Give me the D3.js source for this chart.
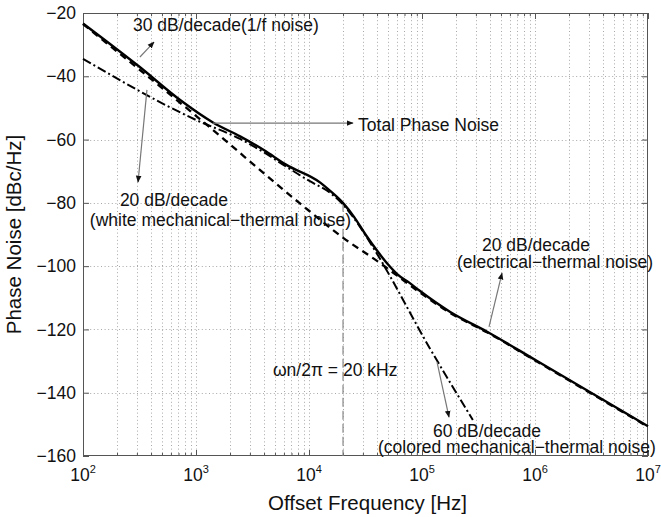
<!DOCTYPE html>
<html><head><meta charset="utf-8">
<script src="https://cdn.jsdelivr.net/npm/d3@7"></script>
<style>
html,body{margin:0;padding:0;background:#fff;}
svg text{font-family:"Liberation Sans",Arial,Helvetica,sans-serif;fill:#111;}
</style></head>
<body><svg id="c" width="661" height="517"></svg>
<script>
// ---- data ----
const xDecades = [1e2, 1e3, 1e4, 1e5, 1e6, 1e7];
const xExponents = ["2", "3", "4", "5", "6", "7"];
const yTicks = [-160, -140, -120, -100, -80, -60, -40, -20];

// Total phase noise (solid)
const totalFreq = [100, 316, 724, 1413, 2455, 3981, 6310, 12589, 15488, 19953, 25119, 31623, 39811, 50119, 60256, 77625, 95499, 177828, 380189, 1e6, 3162278, 1e7];
const totalDb   = [-23.3, -37, -47.5, -54.6, -59.0, -63.3, -68.0, -73.6, -76.3, -80, -84.5, -90, -95, -99.5, -102.5, -105.3, -107.8, -114.5, -120.8, -129.6, -140.1, -150.6];

// 1/f + electrical-thermal noise (dashed)
const dashedFreq = [100, 1000, 10000, 19953, 42462, 60256, 95499, 177828, 380189, 1e6, 3162278, 1e7];
const dashedDb   = [-23.5, -52.5, -82.5, -91, -99, -103, -108.3, -114.8, -121, -129.8, -140.3, -150.8];

// mechanical-thermal noise (dash-dot): white then colored
const mechFreq = [100, 1000, 2455, 3981, 6310, 10000, 15849, 19953, 28184, 39811, 117490, 281838];
const mechDb   = [-34.5, -53.8, -59.8, -64.0, -68.6, -73.0, -77.2, -80.5, -87.5, -96, -126, -148.6];

const cornerFreq = 20000;

// ---- layout ----
const svg = d3.select("#c");
const L = 83, R = 648, T = 13, B = 456;
const x = d3.scaleLog().domain([1e2, 1e7]).range([L, R]);
const y = d3.scaleLinear().domain([-160, -20]).range([B, T]);

const minors = [];
xDecades.slice(0, -1).forEach(d => { for (let k = 2; k <= 9; k++) minors.push(d * k); });

// grid
const grid = svg.append("g").attr("stroke", "#a8a8a8").attr("stroke-width", 1).attr("stroke-dasharray", "1,2.6");
grid.selectAll("line.gx").data(minors.concat(xDecades.slice(1, -1))).join("line")
  .attr("x1", d => Math.round(x(d)) + 0.5).attr("x2", d => Math.round(x(d)) + 0.5)
  .attr("y1", T).attr("y2", B);
grid.selectAll("line.gy").data(yTicks.slice(1, -1)).join("line")
  .attr("x1", L).attr("x2", R)
  .attr("y1", d => Math.round(y(d)) + 0.5).attr("y2", d => Math.round(y(d)) + 0.5);

// axes (MATLAB style inward ticks on all sides)
const axCol = "#555";
function styleAxis(g) { g.select(".domain").remove(); g.selectAll("line").attr("stroke", axCol); }
svg.append("g").attr("transform", `translate(0,${B})`)
  .call(d3.axisBottom(x).tickValues(xDecades).tickSize(-6).tickFormat(() => "")).call(styleAxis);
svg.append("g").attr("transform", `translate(0,${B})`)
  .call(d3.axisBottom(x).tickValues(minors).tickSize(-3).tickFormat(() => "")).call(styleAxis);
svg.append("g").attr("transform", `translate(0,${T})`)
  .call(d3.axisTop(x).tickValues(xDecades).tickSize(-6).tickFormat(() => "")).call(styleAxis);
svg.append("g").attr("transform", `translate(0,${T})`)
  .call(d3.axisTop(x).tickValues(minors).tickSize(-3).tickFormat(() => "")).call(styleAxis);
const yl = svg.append("g").attr("transform", `translate(${L},0)`)
  .call(d3.axisLeft(y).tickValues(yTicks).tickSize(-6).tickPadding(7).tickFormat(d3.format("")));
yl.select(".domain").remove();
yl.selectAll("line").attr("stroke", axCol);
yl.selectAll("text").attr("font-size", 17.5).attr("font-family", "Liberation Sans,Arial,sans-serif").attr("fill", "#111");
svg.append("g").attr("transform", `translate(${R},0)`)
  .call(d3.axisRight(y).tickValues(yTicks).tickSize(-6).tickFormat(() => "")).call(styleAxis);

svg.append("rect").attr("x", L + 0.5).attr("y", T + 0.5).attr("width", R - L - 1).attr("height", B - T - 1)
  .attr("fill", "none").attr("stroke", axCol).attr("stroke-width", 1);

// x tick labels 10^n
const xl = svg.append("g");
xDecades.forEach((d, i) => {
  const t = xl.append("text").attr("x", x(d)).attr("y", 481).attr("text-anchor", "middle").attr("font-size", 17.5);
  t.append("tspan").text("10");
  t.append("tspan").attr("font-size", 11).attr("dy", -8).text(xExponents[i]);
});

// axis titles
svg.append("text").attr("x", (L + R) / 2 + 2).attr("y", 510).attr("text-anchor", "middle")
  .attr("font-size", 20.5).text("Offset Frequency [Hz]");
svg.append("text").attr("transform", `translate(21,${(T + B) / 2}) rotate(-90)`).attr("text-anchor", "middle")
  .attr("font-size", 20.5).text("Phase Noise [dBc/Hz]");

// corner frequency marker
svg.append("line").attr("x1", x(cornerFreq)).attr("x2", x(cornerFreq)).attr("y1", y(-80)).attr("y2", B)
  .attr("stroke", "#888").attr("stroke-width", 1.2).attr("stroke-dasharray", "9,4");

// curves
const line = (fs, ds) => d3.line().curve(d3.curveMonotoneX)(fs.map((f, i) => [x(f), y(ds[i])]));
const curves = svg.append("g").attr("fill", "none").attr("stroke", "#000");
curves.append("path").attr("d", line(mechFreq, mechDb)).attr("stroke-width", 2).attr("stroke-dasharray", "9,3,2,3");
curves.append("path").attr("d", line(dashedFreq, dashedDb)).attr("stroke-width", 2.3).attr("stroke-dasharray", "7,5");
curves.append("path").attr("d", line(totalFreq, totalDb)).attr("stroke-width", 2.4);

// arrowheads
svg.append("defs").append("marker").attr("id", "ah").attr("viewBox", "0 0 10 10").attr("refX", 9).attr("refY", 5)
  .attr("markerWidth", 7).attr("markerHeight", 7).attr("orient", "auto-start-reverse").attr("markerUnits", "userSpaceOnUse")
  .append("path").attr("d", "M0,1 L10,5 L0,9 Z").attr("fill", "#111");

// annotations (in data coordinates)
const arrows = [
  { f1: 319, d1: -33.9, f2: 425, d2: -29.2 },
  { f1: 368, d1: -44.3, f2: 307, d2: -73.4 },
  { f1: 1413, d1: -54.8, f2: 24500, d2: -54.8 },
  { f1: 391742, d1: -119.2, f2: 510505, d2: -102.2 },
  { f1: 135831, d1: -130.3, f2: 173380, d2: -147.7 }
];
svg.append("g").selectAll("line").data(arrows).join("line")
  .attr("x1", d => x(d.f1)).attr("y1", d => y(d.d1)).attr("x2", d => x(d.f2)).attr("y2", d => y(d.d2))
  .attr("stroke", "#777").attr("stroke-width", 1.2).attr("marker-end", "url(#ah)");

const labels = [
  { f: 277, d: -25.7, t: "30 dB/decade(1/f noise)" },
  { f: 212, d: -81.0, t: "20 dB/decade" },
  { f: 115, d: -87.3, t: "(white mechanical\u2212thermal noise)" },
  { f: 27164, d: -57.3, t: "Total Phase Noise" },
  { f: 339625, d: -95.2, t: "20 dB/decade" },
  { f: 204174, d: -100.6, t: "(electrical\u2212thermal noise)" },
  { f: 125026, d: -154.0, t: "60 dB/decade" },
  { f: 40832, d: -159.0, t: "(colored mechanical\u2212thermal noise)" },
  { f: 4797, d: -134.7, t: "\u03c9n/2\u03c0 = 20 kHz" }
];
svg.append("g").selectAll("text").data(labels).join("text")
  .attr("x", d => x(d.f)).attr("y", d => y(d.d)).attr("font-size", 17.5).text(d => d.t);
</script></body></html>
